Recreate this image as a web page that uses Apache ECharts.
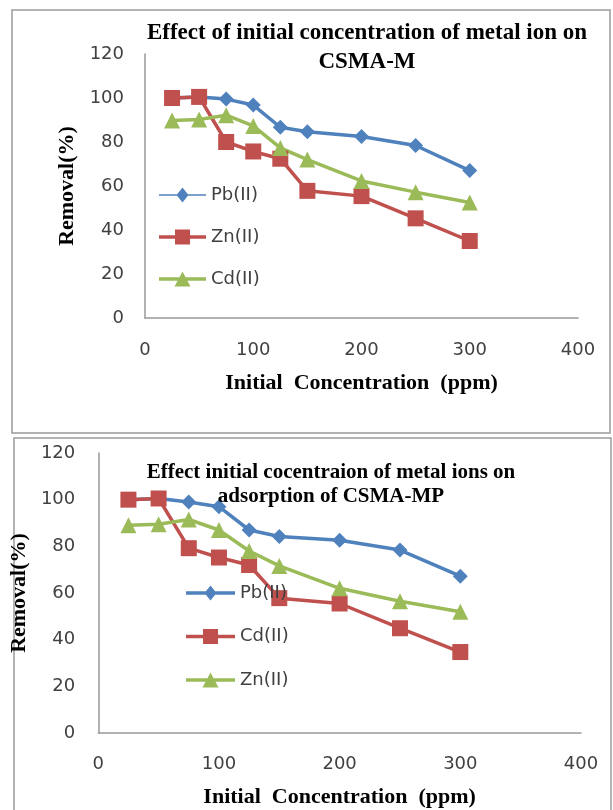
<!DOCTYPE html>
<html>
<head>
<meta charset="utf-8">
<script src="https://cdn.jsdelivr.net/npm/echarts@6/dist/echarts.min.js"></script>
<style>
html,body{margin:0;padding:0;background:#fff;}
#c{width:613px;height:810px;}
</style>
</head>
<body>
<div id="c"></div>
<script>
// ---- data ----
var conc = [25, 50, 75, 100, 125, 150, 200, 250, 300];
// Chart 1: CSMA-M
var pbM  = [100, 100.5, 99.5, 96.8, 86.7, 84.7, 82.5, 78.4, 67];
var znM  = [100, 100.5, 80, 75.7, 72.4, 57.8, 55.4, 45.3, 35];
var cdM  = [89.8, 90.2, 92.2, 87.3, 77.3, 72, 62.3, 57.2, 52.5];
// Chart 2: CSMA-MP
var pbMP = [100, 100.5, 99, 97, 87, 84.2, 82.6, 78.4, 67.2];
var cdMP = [100, 100.5, 79.2, 75.2, 72, 57.8, 55.5, 44.9, 34.7];
var znMP = [89, 89.5, 91.5, 87, 78, 71.6, 62, 56.5, 52];
var xTicks = [0, 100, 200, 300, 400];
var yTicks = [0, 20, 40, 60, 80, 100, 120];

var title1 = 'Effect of initial concentration of metal ion on\nCSMA-M';
var title2 = 'Effect initial cocentraion of metal ions on\nadsorption of CSMA-MP';
var xName = 'Initial  Concentration  (ppm)';
var yName = 'Removal(%)';

function pairs(v){ return conc.map(function(c,i){ return [c, v[i]]; }); }

var BLUE = '#4F81BD', RED = '#C0504D', GREEN = '#9BBB59';
var serif = 'Liberation Serif';
var sans = 'DejaVu Sans';

// legend icons: line bar + marker, as one filled path
function bar(w, t){ var a = 7.5 - t/2, b = 7.5 + t/2; return 'M0 '+a+'L'+w+' '+a+'L'+w+' '+b+'L0 '+b+'Z'; }
function diamondIcon(w, t){ var c = w/2; return 'path://' + bar(w,t) + 'M'+c+' 0L'+(c+6)+' 7.5L'+c+' 15L'+(c-6)+' 7.5Z'; }
function squareIcon(w, t){ var c = w/2; return 'path://' + bar(w,t) + 'M'+(c-7.5)+' 0L'+(c+7.5)+' 0L'+(c+7.5)+' 15L'+(c-7.5)+' 15Z'; }
function triIcon(w, t){ var c = w/2; return 'path://' + bar(w,t) + 'M'+c+' 0L'+(c+8)+' 15L'+(c-8)+' 15Z'; }

function mkSeries(name, vals, color, symbol, size, idx){
  return {
    type: 'line', name: name, xAxisIndex: idx, yAxisIndex: idx,
    data: pairs(vals),
    symbol: symbol, symbolSize: size,
    showAllSymbol: true,
    lineStyle: {color: color, width: 3.5},
    itemStyle: {color: color},
    emphasis: {disabled: true},
    animation: false
  };
}

function xAxis(idx, margin, gap){
  return {
    type: 'value', gridIndex: idx, min: 0, max: 400, interval: 100,
    axisLine: {show: true, lineStyle: {color: '#999', width: 1.5}},
    axisTick: {show: false}, splitLine: {show: false},
    axisLabel: {margin: margin, fontFamily: sans, fontSize: 18, color: '#404040'},
    name: xName, nameLocation: 'middle', nameGap: gap,
    nameTextStyle: {fontFamily: serif, fontWeight: 'bold', fontSize: 22, color: '#000'}
  };
}
function yAxis(idx, margin, gap){
  return {
    type: 'value', gridIndex: idx, min: 0, max: 120, interval: 20,
    axisLine: {show: true, lineStyle: {color: '#999', width: 1.5}},
    axisTick: {show: false}, splitLine: {show: false},
    axisLabel: {margin: margin, fontFamily: sans, fontSize: 18, color: '#404040'},
    name: yName, nameLocation: 'middle', nameGap: gap,
    nameTextStyle: {fontFamily: serif, fontWeight: 'bold', fontSize: 22, color: '#000'}
  };
}

var legendText = {fontFamily: sans, fontSize: 18, color: '#404040', lineHeight: 18};

var option = {
  backgroundColor: '#fff',
  animation: false,
  graphic: [
    {type: 'rect', shape: {x: 12, y: 10, width: 598, height: 423}, style: {fill: 'none', stroke: '#9a9a9a', lineWidth: 1.5}, silent: true},
    {type: 'rect', shape: {x: 14, y: 438, width: 597, height: 380}, style: {fill: 'none', stroke: '#9a9a9a', lineWidth: 1.5}, silent: true}
  ],
  title: [
    {text: title1, left: 367, top: 19, textAlign: 'center', padding: 0,
     textStyle: {fontFamily: serif, fontWeight: 'bold', fontSize: 23, lineHeight: 29, color: '#000'}},
    {text: title2, left: 331, top: 461, textAlign: 'center', padding: 0,
     textStyle: {fontFamily: serif, fontWeight: 'bold', fontSize: 21, lineHeight: 24, color: '#000'}}
  ],
  legend: [
    {orient: 'vertical', left: 159, top: 186, padding: 0, itemWidth: 47, itemHeight: 15, itemGap: 24,
     data: [{name: 'Pb(II)', icon: diamondIcon(47, 1.5)},
            {name: 'Zn(II)', icon: squareIcon(47, 3.5)},
            {name: 'Cd(II)', icon: triIcon(47, 3.5)}],
     textStyle: legendText, formatter: function(n){ return n.split('#')[0]; }},
    {orient: 'vertical', left: 186, top: 584, padding: 0, itemWidth: 49, itemHeight: 15, itemGap: 25.5,
     data: [{name: 'Pb(II)#2', icon: diamondIcon(49, 3.5)},
            {name: 'Cd(II)#2', icon: squareIcon(49, 3.5)},
            {name: 'Zn(II)#2', icon: triIcon(49, 3.5)}],
     textStyle: legendText, formatter: function(n){ return n.split('#')[0]; }}
  ],
  grid: [
    {left: 145, top: 54, right: 35, height: 264, containLabel: false},
    {left: 90, top: 453, right: 32, height: 280, containLabel: false}
  ],
  xAxis: [xAxis(0, 23, 54), xAxis(1, 22, 53)],
  yAxis: [yAxis(0, 21, 67), yAxis(1, 23, 50)],
  series: [
    mkSeries('Pb(II)', pbM, BLUE, 'diamond', 15, 0),
    mkSeries('Zn(II)', znM, RED, 'rect', 16, 0),
    mkSeries('Cd(II)', cdM, GREEN, 'triangle', 16, 0),
    mkSeries('Pb(II)#2', pbMP, BLUE, 'diamond', 15, 1),
    mkSeries('Cd(II)#2', cdMP, RED, 'rect', 16, 1),
    mkSeries('Zn(II)#2', znMP, GREEN, 'triangle', 16, 1)
  ]
};

var chart = echarts.init(document.getElementById('c'), null, {renderer: 'canvas'});
chart.setOption(option);
</script>
</body>
</html>
